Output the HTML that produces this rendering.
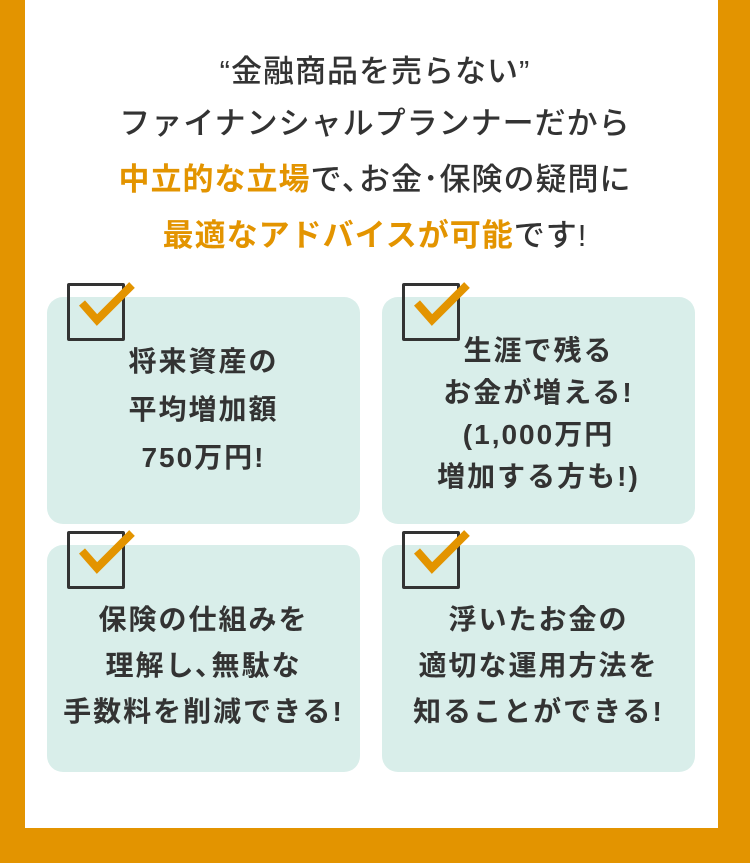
<!DOCTYPE html>
<html><head><meta charset="utf-8"><style>
body{margin:0;width:750px;height:863px;background:#E39400;position:relative;overflow:hidden;font-family:"Liberation Sans","Noto Sans CJK JP",sans-serif;color:#333}
.panel{position:absolute;left:25px;top:0;width:693px;height:828px;background:#fff}
.t{position:absolute;left:0;width:750px;text-align:center;font-size:31px;letter-spacing:1px;font-weight:500;line-height:1;white-space:nowrap}
.o{color:#E39400;font-weight:700}
.card{position:absolute;width:313px;height:227px;background:#D9EEEA;border-radius:16px}
.ct{position:absolute;left:0;width:100%;text-align:center;font-size:28px;font-weight:700;letter-spacing:2px;white-space:nowrap}
.cb{position:absolute;width:52px;height:52px;border:3px solid #333;background:transparent;border-radius:2px}
svg{position:absolute}
</style></head><body>
<div class="panel"></div>
<div class="t" style="top:56px">“金融商品を売らない”</div>
<div class="t" style="top:108px">ファイナンシャルプランナーだから</div>
<div class="t" style="top:164px"><span class="o">中立的な立場</span>で､お金･保険の疑問に</div>
<div class="t" style="top:220px"><span class="o">最適なアドバイスが可能</span>です!</div>

<div class="card" style="left:47px;top:297px"><div class="ct" style="top:41px;line-height:48px">将来資産の<br>平均増加額<br>750万円!</div></div>
<div class="card" style="left:382px;top:297px"><div class="ct" style="top:33px;line-height:42px">生涯で残る<br>お金が増える!<br>(1,000万円<br>増加する方も!)</div></div>
<div class="card" style="left:47px;top:545px"><div class="ct" style="top:52px;line-height:46px">保険の仕組みを<br>理解し､無駄な<br>手数料を削減できる!</div></div>
<div class="card" style="left:382px;top:545px"><div class="ct" style="top:52px;line-height:46px">浮いたお金の<br>適切な運用方法を<br>知ることができる!</div></div>

<div class="cb" style="left:67px;top:283px"></div>
<div class="cb" style="left:402px;top:283px"></div>
<div class="cb" style="left:67px;top:531px"></div>
<div class="cb" style="left:402px;top:531px"></div>
<svg width="750" height="863" style="left:0;top:0">
<g fill="none" stroke="#E39400" stroke-width="8" stroke-linecap="butt" stroke-linejoin="miter">
<polyline points="82,303 97,320 132,285"/>
<polyline points="417,303 432,320 467,285"/>
<polyline points="82,551 97,568 132,533"/>
<polyline points="417,551 432,568 467,533"/>
</g></svg>
</body></html>
